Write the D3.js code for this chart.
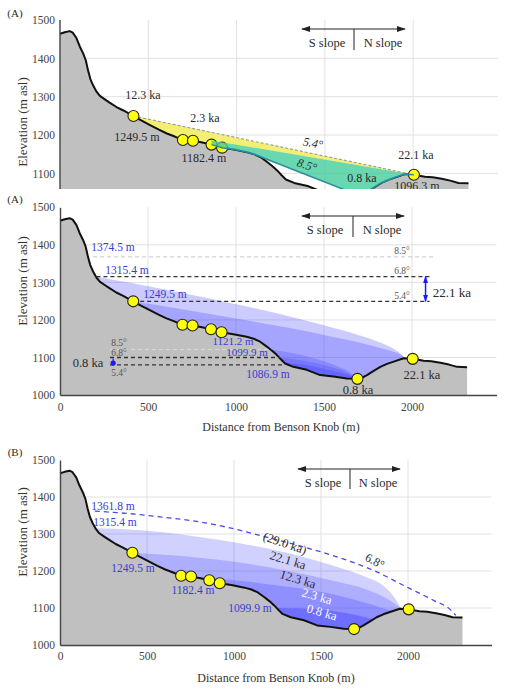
<!DOCTYPE html>
<html><head><meta charset="utf-8">
<script src="https://cdn.jsdelivr.net/npm/d3@7"></script>
<style>
body{margin:0;background:#fff;}
svg{display:block;}
svg text{font-family:"Liberation Serif","DejaVu Serif","Times New Roman",serif;}
</style></head><body>
<svg id="c" width="506" height="691" font-family="Liberation Serif, DejaVu Serif, serif"></svg>
<script>
// ---------------- DATA ----------------
const xTicks = [0, 500, 1000, 1500, 2000];
const yTicks = [1000, 1100, 1200, 1300, 1400, 1500];

const terrainDist = [0, 27, 55, 72, 93, 112, 131, 146, 159, 172, 188, 207, 226, 254, 283, 320, 359, 416, 460, 510, 560, 605, 650, 696, 753, 800, 858, 918, 985, 1061, 1100, 1137, 1175, 1205, 1231, 1255, 1279, 1326, 1402, 1478, 1554, 1630, 1690, 1720, 1744, 1782, 1820, 1858, 1896, 1953, 2004, 2066, 2110, 2161, 2210, 2256, 2313];
const terrainElev = [1464, 1468, 1471, 1467, 1453, 1431, 1413, 1395, 1368, 1346, 1329, 1313, 1302, 1293, 1284, 1273, 1264, 1249.5, 1238, 1226, 1214, 1204, 1196, 1187, 1184.7, 1181, 1175, 1167, 1162, 1155, 1150, 1142, 1129, 1118, 1107, 1095, 1084, 1075, 1067, 1053, 1049, 1044, 1043, 1047, 1053, 1064, 1075, 1083, 1089, 1098, 1096.3, 1091, 1090, 1086, 1081, 1075, 1074];

const siteDist = [416, 696, 753, 858, 918, 1690, 2004];
const siteElev = [1249.5, 1187, 1185, 1175, 1167, 1043, 1096.3];

// Panel 1 (A, top)
const a1LineDist = [416, 2004];
const a1LineElev = [1249.5, 1096.3];
const a1GreenTopDist = [858, 2004];
const a1GreenTopElev = [1186, 1096.3];
const a1GreenBotDist = [858, 918, 985, 1061, 1110, 1690, 1744, 1820, 1896, 1953, 2004];
const a1GreenBotElev = [1175, 1167, 1162, 1155, 1148, 1043, 1053, 1075, 1089, 1098, 1096.3];

// Panel 2 (A, middle) - 22.1 ka profiles
const a2Prof68Dist = [207, 300, 400, 500, 600, 700, 800, 900, 1000, 1100, 1200, 1300, 1400, 1500, 1600, 1700, 1800, 1880, 1930, 1960];
const a2Prof68Elev = [1315.4, 1307, 1299, 1290, 1281, 1271, 1262, 1252, 1242, 1232, 1221, 1210, 1198, 1186, 1173, 1159, 1143, 1127, 1112, 1099];
const a2Prof54Dist = [416, 500, 600, 700, 800, 900, 1000, 1100, 1200, 1300, 1400, 1500, 1600, 1700, 1800, 1880, 1930, 1960];
const a2Prof54Elev = [1249.5, 1243, 1236, 1228, 1220, 1212, 1204, 1196, 1187, 1179, 1170, 1160, 1150, 1140, 1128, 1117, 1109, 1099];
// 0.8 ka profiles
const a2ProfC_Dist = [1200, 1300, 1400, 1500, 1600, 1650, 1690];
const a2ProfC_Elev = [1121.2, 1113, 1103, 1090, 1072, 1060, 1043];
const a2ProfD_Dist = [1250, 1350, 1450, 1550, 1630, 1690];
const a2ProfD_Elev = [1099.9, 1094, 1085, 1073, 1060, 1043];
const a2ProfE_Dist = [1275, 1380, 1480, 1580, 1650, 1690];
const a2ProfE_Elev = [1086.9, 1081, 1072, 1061, 1052, 1043];
// reference levels
const a2TopLevelElev = [1368, 1315.4, 1249.5];
const a2TopLevelStart = [188, 207, 416];
const a2TopLevelEnd = [2120, 2100, 2100];
const a2TopLevelLabel = ["8.5°", "6.8°", "5.4°"];
const a2LowLevelElev = [1121.2, 1099.9, 1080];
const a2LowLevelStart = [284, 284, 284];
const a2LowLevelEnd = [1200, 1250, 1275];
const a2LowLevelLabel = ["8.5°", "6.8°", "5.4°"];

// Panel 3 (B)
const b22Dist = [207, 300, 400, 600, 800, 1000, 1200, 1400, 1600, 1750, 1858, 1920, 1960];
const b22Elev = [1315.4, 1314, 1312, 1304, 1292, 1278, 1260, 1238, 1210, 1185, 1160, 1130, 1099];
const b12Dist = [416, 600, 800, 1000, 1200, 1400, 1600, 1761, 1880, 1960];
const b12Elev = [1249.5, 1244, 1236, 1225, 1210, 1192, 1170, 1150, 1125, 1099];
const b23Dist = [753, 900, 1100, 1300, 1475, 1650, 1800, 1880, 1920];
const b23Elev = [1185, 1180, 1170, 1158, 1146, 1128, 1108, 1096, 1093];
const b08Dist = [1250, 1350, 1450, 1550, 1650, 1750, 1800];
const b08Elev = [1099.9, 1099, 1097, 1093, 1086, 1076, 1069];
const b29Dist = [200, 400, 600, 800, 1000, 1200, 1400, 1600, 1800, 2000, 2150, 2240, 2275];
const b29Elev = [1361.8, 1355, 1345, 1333, 1314, 1290, 1265, 1237, 1202, 1155, 1120, 1097, 1080];

// ---------------- DRAW ----------------
const FONT = "Liberation Serif, DejaVu Serif, serif";
const zip = (a, b) => a.map((v, i) => [v, b[i]]);
const terrain = zip(terrainDist, terrainElev);
const sites = zip(siteDist, siteElev);
const svg = d3.select("#c");
const defs = svg.append("defs");
function marker(id, color, size) {
  defs.append("marker").attr("id", id).attr("viewBox", "0 0 10 10")
    .attr("refX", 9).attr("refY", 5).attr("markerWidth", size).attr("markerHeight", size)
    .attr("markerUnits", "userSpaceOnUse").attr("orient", "auto-start-reverse")
    .append("path").attr("d", "M0,1.5 L10,5 L0,8.5 Z").attr("fill", color);
}
marker("ahK", "#222", 9);
marker("ahB", "#1a1aff", 7);
defs.append("clipPath").attr("id", "clip1").append("rect").attr("x", 0).attr("y", 0).attr("width", 506).attr("height", 189);

const GRID = "#dedede", TERR = "#c0c0c0", BLUE_TXT = "#3a3ad8", BAND = "#4040ff";

function grid(g, x, y) {
  g.append("g").selectAll("line").data(yTicks.slice(1, 5)).join("line")
    .attr("x1", x(0)).attr("x2", x(2480)).attr("y1", d => y(d)).attr("y2", d => y(d))
    .attr("stroke", GRID).attr("stroke-width", 0.9);
  g.append("g").selectAll("line").data(xTicks.slice(1)).join("line")
    .attr("x1", d => x(d)).attr("x2", d => x(d)).attr("y1", y(1500)).attr("y2", y(1000))
    .attr("stroke", GRID).attr("stroke-width", 0.9);
}
function terrainDraw(g, x, y) {
  g.append("path").datum(terrain)
    .attr("d", d3.area().x(d => x(d[0])).y0(y(1000)).y1(d => y(d[1])))
    .attr("fill", TERR);
  g.append("path").datum(terrain)
    .attr("d", d3.line().x(d => x(d[0])).y(d => y(d[1])))
    .attr("fill", "none").attr("stroke", "#111").attr("stroke-width", 2).attr("stroke-linejoin", "round");
}
function band(g, x, y, dist, elev, op) {
  g.append("path").datum(zip(dist, elev))
    .attr("d", d3.area().x(d => x(d[0])).y0(y(1000)).y1(d => y(d[1])).curve(d3.curveMonotoneX))
    .attr("fill", BAND).attr("fill-opacity", op);
}
function dots(g, x, y, data) {
  g.append("g").selectAll("circle").data(data).join("circle")
    .attr("cx", d => x(d[0])).attr("cy", d => y(d[1])).attr("r", 5.5)
    .attr("fill", "#ffff10").attr("stroke", "#222").attr("stroke-width", 1.1);
}
function styleAxis(a) {
  a.attr("font-family", FONT).attr("font-size", 11.5);
  a.select(".domain").attr("stroke", "#444").attr("stroke-width", 1.4);
  a.selectAll("text").attr("fill", "#444").attr("font-family", FONT);
}
function yAxis(g, x, y, ticks) {
  const a = g.append("g").attr("transform", `translate(${x(0)},0)`)
    .call(d3.axisLeft(y).tickValues(ticks).tickFormat(d3.format("d")).tickSize(0).tickPadding(5).tickSizeOuter(0));
  styleAxis(a);
}
function xAxis(g, x, y, pad) {
  const a = g.append("g").attr("transform", `translate(0,${y(1000)})`)
    .call(d3.axisBottom(x).tickValues(xTicks).tickFormat(d3.format("d")).tickSize(0).tickPadding(pad).tickSizeOuter(0));
  styleAxis(a);
}
function txt(g, s, px, py, o = {}) {
  const t = g.append("text").attr("x", px).attr("y", py).attr("dy", "0.35em")
    .attr("text-anchor", o.anchor || "middle").attr("font-size", o.size || 12)
    .attr("font-family", FONT)
    .attr("fill", o.fill || "#2a2a2a").text(s);
  if (o.rot) t.attr("transform", `rotate(${o.rot},${px},${py})`);
  if (o.italic) t.attr("font-style", "italic");
  return t;
}
function slopeArrow(g, xl, xr, xm, ya, yb, yt, cl, cr) {
  g.append("line").attr("x1", xm).attr("x2", xl).attr("y1", ya).attr("y2", ya)
    .attr("stroke", "#222").attr("stroke-width", 1.2).attr("marker-end", "url(#ahK)");
  g.append("line").attr("x1", xm).attr("x2", xr).attr("y1", ya).attr("y2", ya)
    .attr("stroke", "#222").attr("stroke-width", 1.2).attr("marker-end", "url(#ahK)");
  g.append("line").attr("x1", xm).attr("x2", xm).attr("y1", ya).attr("y2", yb)
    .attr("stroke", "#333").attr("stroke-width", 1.1);
  txt(g, "S slope", cl, yt, {size: 12.5});
  txt(g, "N slope", cr, yt, {size: 12.5});
}
function yTitle(g, cy) {
  g.append("text").attr("transform", `translate(22,${cy}) rotate(-90)`).attr("dy", "0.35em")
    .attr("font-family", FONT)
    .attr("text-anchor", "middle").attr("font-size", 13).attr("fill", "#333").text("Elevation (m asl)");
}
function xTitle(g, cx, cy) { txt(g, "Distance from Benson Knob (m)", cx, cy, {size: 12, fill: "#333"}); }

// ===== Panel 1 =====
{
  const x = d3.scaleLinear().domain([0, 2480]).range([60, 60 + 2480 * 0.1766]);
  const y = d3.scaleLinear().domain([1000, 1500]).range([211.7, 20]);
  const g = svg.append("g").attr("clip-path", "url(#clip1)");
  const L = d3.line().x(d => x(d[0])).y(d => y(d[1]));
  grid(g, x, y);
  g.append("path").datum(terrain)
    .attr("d", d3.area().x(d => x(d[0])).y0(y(1000)).y1(d => y(d[1]))).attr("fill", TERR);
  const gt = zip(a1GreenTopDist, a1GreenTopElev);
  const yellowPoly = zip(a1LineDist, a1LineElev)
    .concat(gt.slice().reverse())
    .concat(terrain.filter(d => d[0] > 416 && d[0] < 858).reverse());
  g.append("path").attr("d", L(yellowPoly) + "Z").attr("fill", "#f3ef72");
  g.append("path").attr("d", L(zip(a1LineDist, a1LineElev)))
    .attr("stroke", "#999").attr("stroke-width", 1.1).attr("stroke-dasharray", "3,2").attr("fill", "none");
  g.append("path").attr("d", L(terrain))
    .attr("fill", "none").attr("stroke", "#111").attr("stroke-width", 2).attr("stroke-linejoin", "round");
  dots(g, x, y, sites);
  const gb = zip(a1GreenBotDist, a1GreenBotElev);
  const greenPoly = gt.concat(gb.slice().reverse());
  g.append("path").attr("d", L(greenPoly) + "Z").attr("fill", "#3fcc98").attr("fill-opacity", 0.78);
  g.append("path").attr("d", L(gb)).attr("fill", "none").attr("stroke", "#2a8aa0").attr("stroke-width", 1.5);
  g.append("line").attr("x1", x(0)).attr("x2", x(0)).attr("y1", y(1500)).attr("y2", y(1000))
    .attr("stroke", "#444").attr("stroke-width", 1.4);
  const ax = g.append("g").attr("transform", `translate(${x(0)},0)`)
    .call(d3.axisLeft(y).tickValues([1100, 1200, 1300, 1400, 1500]).tickFormat(d3.format("d")).tickSize(0).tickPadding(5));
  styleAxis(ax);
  ax.select(".domain").remove();
  yTitle(g, 122);
  txt(g, "12.3 ka", 143, 95);
  txt(g, "1249.5 m", 137, 137);
  txt(g, "2.3 ka", 205, 118);
  txt(g, "1182.4 m", 204, 158);
  txt(g, "5.4°", 313, 143, {italic: true, rot: 11});
  txt(g, "8.5°", 307, 165, {italic: true, rot: 17});
  txt(g, "0.8 ka", 362, 178);
  txt(g, "22.1 ka", 416, 155);
  txt(g, "1096.3 m", 417, 186);
  slopeArrow(g, 302, 405, 354, 29, 50, 43, 327, 383);
  txt(g, "(A)", 15, 13, {size: 11});
}

// ===== Panel 2 =====
{
  const x = d3.scaleLinear().domain([0, 2480]).range([60, 60 + 2480 * 0.176]);
  const y = d3.scaleLinear().domain([1000, 1500]).range([395, 207.3]);
  const g = svg.append("g");
  grid(g, x, y);
  band(g, x, y, a2Prof68Dist, a2Prof68Elev, 0.27);
  band(g, x, y, a2Prof54Dist, a2Prof54Elev, 0.27);
  band(g, x, y, a2ProfC_Dist, a2ProfC_Elev, 0.25);
  band(g, x, y, a2ProfD_Dist, a2ProfD_Elev, 0.25);
  band(g, x, y, a2ProfE_Dist, a2ProfE_Elev, 0.3);
  terrainDraw(g, x, y);
  a2TopLevelElev.forEach((e, i) => {
    g.append("line").attr("x1", x(a2TopLevelStart[i])).attr("x2", x(a2TopLevelEnd[i]))
      .attr("y1", y(e)).attr("y2", y(e))
      .attr("stroke", i === 0 ? "#c8c8c8" : "#333").attr("stroke-width", i === 0 ? 1 : 1.3)
      .attr("stroke-dasharray", "4,3");
    txt(g, a2TopLevelLabel[i], 402, y(e) - 6, {size: 9.5, fill: "#555"});
  });
  a2LowLevelElev.forEach((e, i) => {
    g.append("line").attr("x1", x(a2LowLevelStart[i])).attr("x2", x(a2LowLevelEnd[i]))
      .attr("y1", y(e)).attr("y2", y(e))
      .attr("stroke", i === 0 ? "#d8d8d8" : "#333").attr("stroke-width", i === 0 ? 1 : 1.3)
      .attr("stroke-dasharray", "4,3");
  });
  txt(g, a2LowLevelLabel[0], 119, 343, {size: 9.5, fill: "#555"});
  txt(g, a2LowLevelLabel[1], 119, 353, {size: 9.5, fill: "#555"});
  txt(g, a2LowLevelLabel[2], 119, 373, {size: 9.5, fill: "#555"});
  g.append("line").attr("x1", x(2077)).attr("x2", x(2077)).attr("y1", y(1315.4)).attr("y2", y(1249.5))
    .attr("stroke", "#1a1aff").attr("stroke-width", 1.5)
    .attr("marker-start", "url(#ahB)").attr("marker-end", "url(#ahB)");
  g.append("line").attr("x1", x(302)).attr("x2", x(302)).attr("y1", y(1099.9) + 1).attr("y2", y(1080) - 1)
    .attr("stroke", "#1a1aff").attr("stroke-width", 1.2);
  g.append("circle").attr("cx", x(302)).attr("cy", y(1085)).attr("r", 2.6).attr("fill", "#1a1aff");
  dots(g, x, y, sites);
  yAxis(g, x, y, yTicks);
  xAxis(g, x, y, 8);
  yTitle(g, 281);
  xTitle(g, 281, 427);
  txt(g, "1374.5 m", 113, 247, {fill: BLUE_TXT, size: 11.5});
  txt(g, "1315.4 m", 127, 270, {fill: BLUE_TXT, size: 11.5});
  txt(g, "1249.5 m", 165, 294, {fill: BLUE_TXT, size: 11.5});
  txt(g, "1121.2 m", 233, 341, {fill: BLUE_TXT, size: 11});
  txt(g, "1099.9 m", 247, 352, {fill: BLUE_TXT, size: 11});
  txt(g, "1086.9 m", 268, 374, {fill: BLUE_TXT, size: 11.5});
  txt(g, "22.1 ka", 452, 292, {size: 13});
  txt(g, "0.8 ka", 88, 363, {size: 12.5});
  txt(g, "22.1 ka", 422, 375, {size: 12.5});
  txt(g, "0.8 ka", 358, 390, {size: 12.5});
  slopeArrow(g, 302, 404, 353, 216, 237, 230, 325, 382);
  txt(g, "(A)", 15, 199, {size: 11});
}

// ===== Panel 3 =====
{
  const x = d3.scaleLinear().domain([0, 2480]).range([60, 60 + 2480 * 0.174]);
  const y = d3.scaleLinear().domain([1000, 1500]).range([645, 460]);
  const g = svg.append("g");
  grid(g, x, y);
  band(g, x, y, b22Dist, b22Elev, 0.24);
  band(g, x, y, b12Dist, b12Elev, 0.24);
  band(g, x, y, b23Dist, b23Elev, 0.28);
  band(g, x, y, b08Dist, b08Elev, 0.42);
  g.append("path").datum(zip(b29Dist, b29Elev))
    .attr("d", d3.line().x(d => x(d[0])).y(d => y(d[1])).curve(d3.curveMonotoneX))
    .attr("fill", "none").attr("stroke", "#4a4ae0").attr("stroke-width", 1.3).attr("stroke-dasharray", "5,4");
  terrainDraw(g, x, y);
  dots(g, x, y, sites);
  yAxis(g, x, y, yTicks);
  xAxis(g, x, y, 7);
  yTitle(g, 532);
  xTitle(g, 276, 678);
  txt(g, "1361.8 m", 113, 506, {fill: BLUE_TXT, size: 11.5});
  txt(g, "1315.4 m", 115, 522, {fill: BLUE_TXT, size: 11.5});
  txt(g, "1249.5 m", 133, 568, {fill: BLUE_TXT, size: 11.5});
  txt(g, "1182.4 m", 193, 590, {fill: BLUE_TXT, size: 11.5});
  txt(g, "1099.9 m", 250, 608, {fill: BLUE_TXT, size: 11.5});
  txt(g, "(29.0 ka)", 285, 543, {size: 12.5, rot: 19});
  txt(g, "22.1 ka", 288, 560, {size: 12.5, rot: 17});
  txt(g, "12.3 ka", 298, 579, {size: 12.5, rot: 17});
  txt(g, "2.3 ka", 317, 596, {size: 12.5, rot: 16, fill: "#fff"});
  txt(g, "0.8 ka", 322, 612, {size: 12.5, rot: 16, fill: "#fff"});
  txt(g, "6.8°", 375, 561, {size: 12, rot: 28});
  slopeArrow(g, 298, 400, 350, 469, 489, 483, 323, 378);
  txt(g, "(B)", 15, 452, {size: 11});
}
</script>
</body></html>
